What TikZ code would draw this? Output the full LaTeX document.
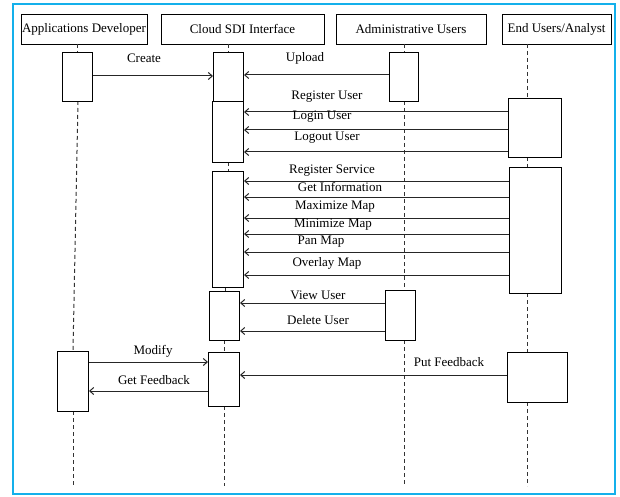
\documentclass[tikz,border=0pt]{standalone}
\usepackage{fontspec}
\setmainfont{Liberation Serif}
\usetikzlibrary{arrows.meta}
\definecolor{frameblue}{RGB}{20,176,235}
\tikzset{
  hdr/.style={draw, line width=0.9pt, inner sep=0pt, minimum height=30pt, font=\fontsize{13}{15}\selectfont},
  act/.style={draw, line width=1pt, fill=white, inner sep=0pt, anchor=north west},
  msg/.style={draw=black!85, line width=1pt, -{Straight Barb[length=4pt,width=7pt]}},
  life/.style={draw=black!80, line width=1pt, dash pattern=on 4pt off 3pt},
  lbl/.style={inner sep=0pt, font=\fontsize{13}{15}\selectfont}
}
\newcommand{\actbox}[5]{\node[act, minimum width=#4pt, minimum height=#5pt] (#1) at (#2,#3) {};}
\begin{document}
\begin{tikzpicture}[x=1pt,y=-1pt]
\useasboundingbox (0,0) rectangle (620,497);
\draw[frameblue, line width=2.2pt] (13,4) rectangle (615,494);

% headers
\node[hdr, minimum width=126pt] (hA) at (84,29) {Applications Developer};
\node[hdr, minimum width=163pt] (hC) at (242.5,29) {Cloud SDI Interface};
\node[hdr, minimum width=150pt] (hD) at (411,29) {Administrative Users};
\node[hdr, minimum width=109pt] (hE) at (556.5,29) {End Users/Analyst};

% lifeline end points
\coordinate (endA) at (73,486);
\coordinate (endC) at (224,486);
\coordinate (endD) at (404,486);
\coordinate (endE) at (527,486);

% lifelines (drawn first, behind boxes)
\draw[life] (77,44) -- (77,52);
\draw[life] (78,101) -- (73,351);
\draw[life] (73,411) -- (endA);
\draw[life] (228,44) -- (228,52);
\draw[life] (228,162) -- (228,171);
\draw[life] (225,287) -- (225,291);
\draw[life] (224,340) -- (224,352);
\draw[life] (224,406) -- (endC);
\draw[life] (404,44) -- (404,52);
\draw[life] (404,101) -- (404,290);
\draw[life] (404,340) -- (endD);
\draw[life] (527,44) -- (527,98);
\draw[life] (527,157) -- (527,167);
\draw[life] (527,293) -- (527,352);
\draw[life] (527,402) -- (endE);

% activation boxes
\actbox{aA1}{62}{52}{30}{49}
\actbox{aA2}{57}{351}{31}{60}
\actbox{aC1}{213}{52}{30}{49}
\actbox{aC2}{212}{101}{31}{61}
\actbox{aC3}{212}{171}{31}{116}
\actbox{aC4}{209}{291}{30}{49}
\actbox{aC5}{208}{352}{31}{54}
\actbox{aD1}{389}{52}{29}{49}
\actbox{aD2}{385}{290}{30}{50}
\actbox{aE1}{508}{98}{53}{59}
\actbox{aE2}{509}{167}{52}{126}
\actbox{aE3}{507}{352}{60}{50}

% messages
\draw[msg] (aA1.east |- 0,76) -- (aC1.west |- 0,76);
\draw[msg] (aD1.west |- 0,75) -- (aC1.east |- 0,75);
\draw[msg] (aE1.west |- 0,112) -- (aC2.east |- 0,112);
\draw[msg] (aE1.west |- 0,130) -- (aC2.east |- 0,130);
\draw[msg] (aE1.west |- 0,152) -- (aC2.east |- 0,152);
\draw[msg] (aE2.west |- 0,181) -- (aC3.east |- 0,181);
\draw[msg] (aE2.west |- 0,197) -- (aC3.east |- 0,197);
\draw[msg] (aE2.west |- 0,218) -- (aC3.east |- 0,218);
\draw[msg] (aE2.west |- 0,234) -- (aC3.east |- 0,234);
\draw[msg] (aE2.west |- 0,252) -- (aC3.east |- 0,252);
\draw[msg] (aE2.west |- 0,275) -- (aC3.east |- 0,275);
\draw[msg] (aD2.west |- 0,303) -- (aC4.east |- 0,303);
\draw[msg] (aD2.west |- 0,331) -- (aC4.east |- 0,331);
\draw[msg] (aA2.east |- 0,362) -- (aC5.west |- 0,362);
\draw[msg] (aC5.west |- 0,391) -- (aA2.east |- 0,391);
\draw[msg] (aE3.west |- 0,375) -- (aC5.east |- 0,375);

% labels
\node[lbl] (lCreate) at (144,58) {Create};
\node[lbl] (lUpload) at (305,58) {Upload};
\node[lbl] (lReg) at (327,97) {Register User};
\node[lbl] (lLogin) at (322,117) {Login User};
\node[lbl] (lLogout) at (327,138) {Logout User};
\node[lbl] (lRegS) at (332,171) {Register Service};
\node[lbl] (lGet) at (340,187) {Get Information};
\node[lbl] (lMax) at (335,207) {Maximize Map};
\node[lbl] (lMin) at (333,225) {Minimize Map};
\node[lbl] (lPan) at (321,242) {Pan Map};
\node[lbl] (lOver) at (327,263) {Overlay Map};
\node[lbl] (lView) at (318,295) {View User};
\node[lbl] (lDel) at (318,320) {Delete User};
\node[lbl] (lMod) at (153,351) {Modify};
\node[lbl] (lGetF) at (154,380) {Get Feedback};
\node[lbl] (lPut) at (449,362) {Put Feedback};
\end{tikzpicture}
\end{document}
